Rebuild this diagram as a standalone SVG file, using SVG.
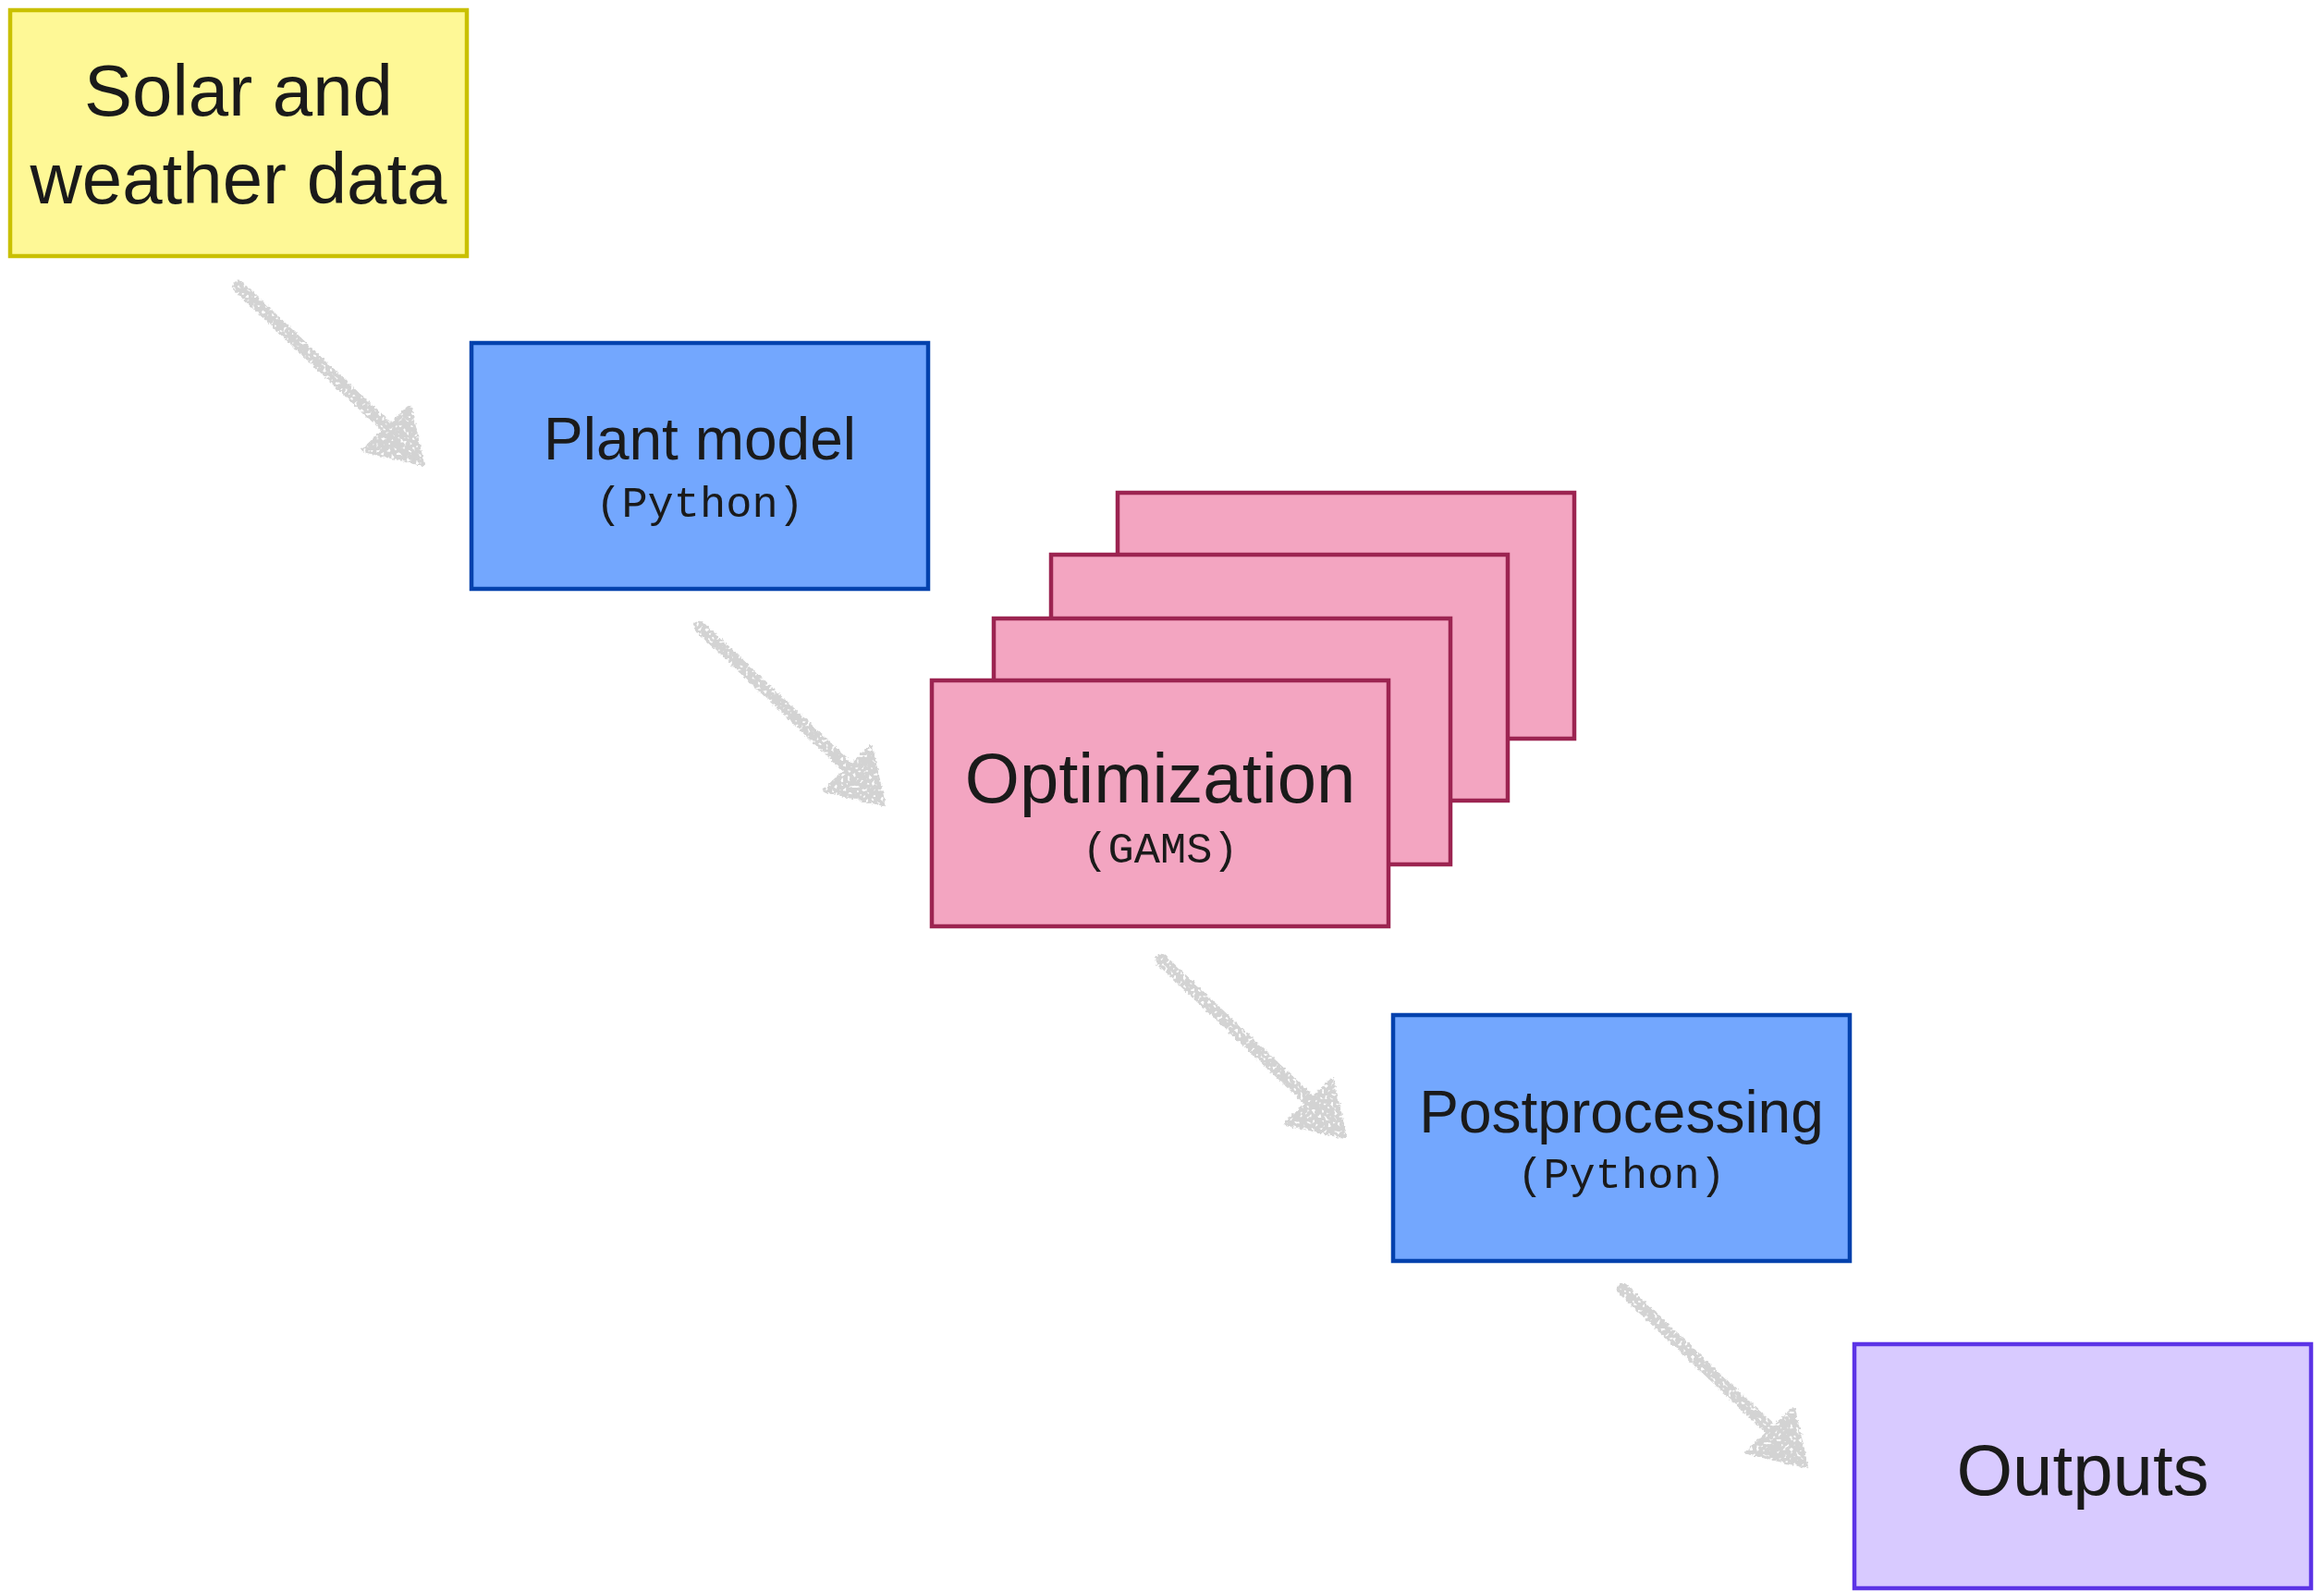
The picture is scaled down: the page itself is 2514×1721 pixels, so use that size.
<svg xmlns="http://www.w3.org/2000/svg" xmlns:xlink="http://www.w3.org/1999/xlink" width="2514" height="1721" viewBox="0 0 2514 1721">
<style>
.box{stroke-width:4.5}
.yellow{fill:#fef896;stroke:#c9c000}
.blue{fill:#73a7fe;stroke:#0342ad}
.pink{fill:#f3a5c1;stroke:#9c2451}
.purple{fill:#d8caff;stroke:#5c34e6}
.lbl{font-family:"Liberation Sans",Arial,sans-serif;fill:#1a1a1a;text-anchor:middle}
.mono{font-family:"Liberation Mono","Courier New",monospace;fill:#1a1a1a;text-anchor:middle;font-size:47px}
.arrow{fill:#d3d3d3;stroke:#d3d3d3}
</style>
<defs>
<filter id="chalk" x="-20%" y="-20%" width="140%" height="140%">
<feTurbulence type="fractalNoise" baseFrequency="0.3" numOctaves="2" seed="7" result="n"/>
<feDisplacementMap in="SourceGraphic" in2="n" scale="5" xChannelSelector="R" yChannelSelector="G" result="d"/>
<feTurbulence type="fractalNoise" baseFrequency="0.3" numOctaves="1" seed="11" result="h"/>
<feColorMatrix in="h" type="matrix" values="0 0 0 0 0  0 0 0 0 0  0 0 0 0 0  0 0 0 -8 5.6" result="mask"/>
<feComposite in="d" in2="mask" operator="in"/>
</filter>
<g id="arrowShape" class="arrow">
<path d="M0,0 L158,150" stroke-width="13" stroke-linecap="round" fill="none"/>
<path d="M135,177 L185,130 L199,192 Z" stroke-width="4" stroke-linejoin="round"/>
</g>
</defs>
<rect width="2514" height="1721" fill="#ffffff"/>
<g id="connectors" filter="url(#chalk)">
<use xlink:href="#arrowShape" transform="translate(258,310)"/>
<use xlink:href="#arrowShape" transform="translate(757,678)"/>
<use xlink:href="#arrowShape" transform="translate(1256,1038)"/>
<use xlink:href="#arrowShape" transform="translate(1755,1394)"/>
</g>
<g id="solar">
<rect class="box yellow" x="11" y="11" width="494" height="266"/>
<text class="lbl" x="258" y="125" font-size="78">Solar and</text>
<text class="lbl" x="258" y="220" font-size="78">weather data</text>
</g>
<g id="plant">
<rect class="box blue" x="510" y="371" width="494" height="266"/>
<text class="lbl" x="757" y="497" font-size="64">Plant model</text>
<text class="mono" x="757" y="559">(Python)</text>
</g>
<g id="optimization">
<rect class="box pink" x="1209" y="533" width="494" height="266"/>
<rect class="box pink" x="1137" y="600" width="494" height="266"/>
<rect class="box pink" x="1075" y="669" width="494" height="266"/>
<rect class="box pink" x="1008" y="736" width="494" height="266"/>
<text class="lbl" x="1255" y="868" font-size="76">Optimization</text>
<text class="mono" x="1255" y="933">(GAMS)</text>
</g>
<g id="postprocessing">
<rect class="box blue" x="1507" y="1098" width="494" height="266"/>
<text class="lbl" x="1754" y="1225" font-size="64">Postprocessing</text>
<text class="mono" x="1754" y="1285">(Python)</text>
</g>
<g id="outputs">
<rect class="box purple" x="2006" y="1454" width="494" height="264"/>
<text class="lbl" x="2253" y="1617" font-size="78">Outputs</text>
</g>
</svg>
